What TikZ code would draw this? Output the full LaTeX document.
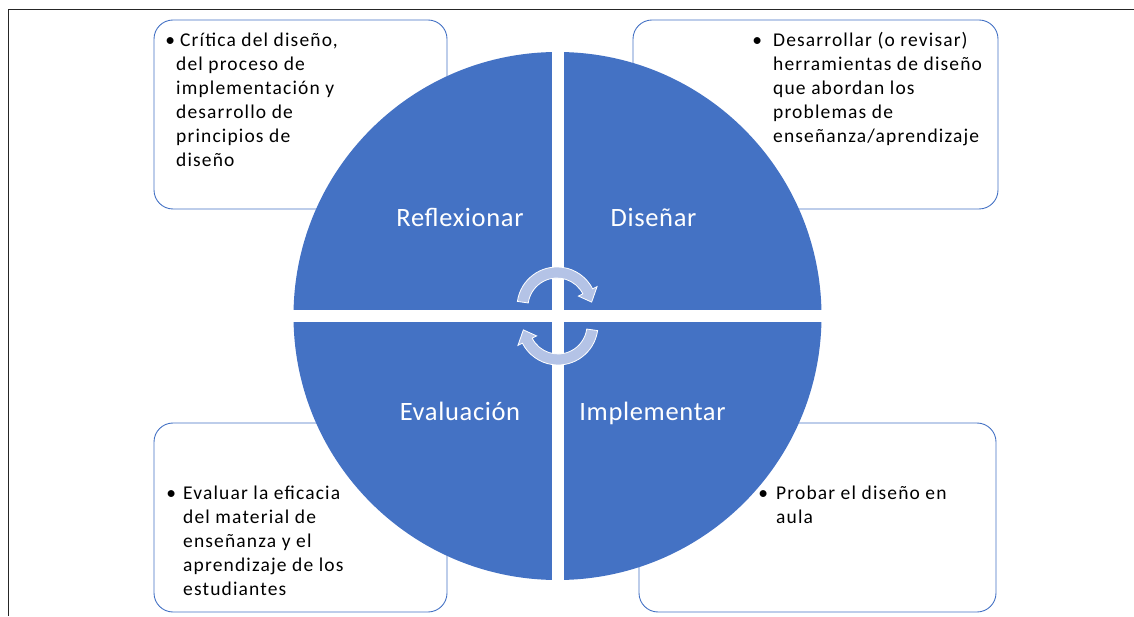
\documentclass[tikz,border=0pt]{standalone}
\usepackage{fontspec}
\setmainfont{Carlito}
\newfontfamily\boxfont[LetterSpace=5.9]{Carlito}
\newfontfamily\phasefont[LetterSpace=2.5]{Carlito}
\usepackage{xcolor}

\definecolor{wheelblue}{HTML}{4472C4}
\definecolor{arrowblue}{HTML}{B4C3E6}
\newcommand{\dotgap}[1]{\makebox[0pt]{\textbullet}\hspace{#1}}

\begin{document}
\begin{tikzpicture}[
    x=1pt,
    y=1pt,
    note/.style={draw=wheelblue, line width=0.9pt, rounded corners=19pt, inner sep=0pt, outer sep=0pt},
    bullets/.style={anchor=base west, inner sep=0pt, font=\boxfont\fontsize{19.5pt}{24pt}\selectfont},
    phase/.style={anchor=base, inner sep=0pt, text=white, font=\phasefont\fontsize{26.5pt}{32pt}\selectfont},
    cycarrow/.style={fill=arrowblue, draw=white, line width=0.8pt}
]
\useasboundingbox (0,0) rectangle (1134,616);
\draw[line width=1.1pt, black!85] (8.5,0) -- (8.5,606.5) -- (1134,606.5);

% boxes behind the wheel
\node[note, minimum width=293pt, minimum height=189pt] (boxrefl) at (300.5,501.5) {};
\node[note, minimum width=365pt, minimum height=189pt] (boxdis) at (815.5,501.5) {};
\node[note, minimum width=293pt, minimum height=189pt] (boxeval) at (300.5,98.5) {};
\node[note, minimum width=357pt, minimum height=189pt] (boximpl) at (817.5,98.5) {};

% the wheel
\coordinate (hub) at (557.5,300);
\fill[wheelblue] (hub) circle (264pt);
\fill[white] (551.5,34) rectangle (563.5,566);
\fill[white] (291,294) rectangle (824,306);

\node[phase] (reflexionar) at (460,389) {Reflexionar};
\node[phase] (disenar) at (653.5,389) {Diseñar};
\node[phase] (evaluacion) at (460,196) {Evaluación};
\node[phase] (implementar) at (652.5,196) {Implementar};

\foreach \cx/\cy/\turn in {557/309/0, 558/291/180}{
  \draw[cycarrow, shift={(\cx,\cy)}, rotate=\turn]
    (172:40pt) arc[start angle=172, end angle=27, radius=40pt]
    -- (27:45pt) -- (8:35pt) -- (27:24pt) -- (27:29pt)
    arc[start angle=27, end angle=172, radius=29pt] -- cycle;
}

% texts of the boxes
\node[bullets] (txtrefl) at (170,569) {\begin{tabular}[t]{@{}l@{}l@{}}
  \dotgap{6pt} & \hspace{4pt}Crítica del diseño,\\
  & del proceso de\\
  & implementación y\\
  & desarrollo de\\
  & principios de\\
  & diseño
\end{tabular}};
\node[bullets] (txtdis) at (757,569) {\begin{tabular}[t]{@{}l@{}l@{}}
  \dotgap{16pt} & Desarrollar (o revisar)\\
  & herramientas de diseño\\
  & que abordan los\\
  & problemas de\\
  & enseñanza/aprendizaje
\end{tabular}};
\node[bullets] (txteval) at (171,117) {\begin{tabular}[t]{@{}l@{}l@{}}
  \dotgap{12pt} & Evaluar la eficacia\\
  & del material de\\
  & enseñanza y el\\
  & aprendizaje de los\\
  & estudiantes
\end{tabular}};
\node[bullets] (txtimpl) at (763,117) {\begin{tabular}[t]{@{}l@{}l@{}}
  \dotgap{13pt} & Probar el diseño en\\
  & aula
\end{tabular}};
\end{tikzpicture}
\end{document}
